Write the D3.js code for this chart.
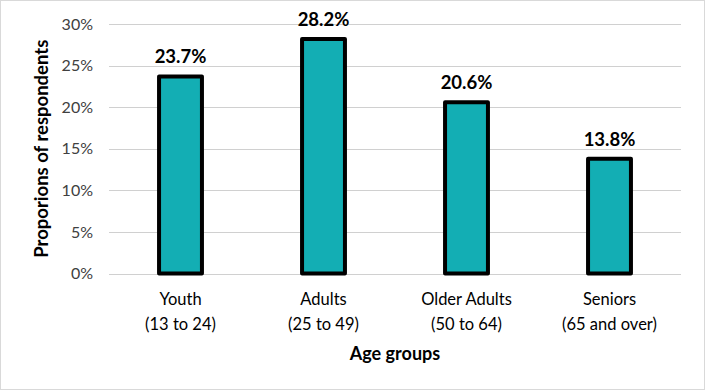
<!DOCTYPE html>
<html><head><meta charset="utf-8">
<script src="https://cdn.jsdelivr.net/npm/d3@7"></script>
<style>body{margin:0;background:#fff;}svg{display:block;}text{font-family:Lato,"Open Sans","Liberation Sans",sans-serif;}</style>
</head><body>
<script>
const categories = ["Youth", "Adults", "Older Adults", "Seniors"];
const subLabels = ["(13 to 24)", "(25 to 49)", "(50 to 64)", "(65 and over)"];
const values = [23.7, 28.2, 20.6, 13.8];
const yTicks = [0, 5, 10, 15, 20, 25, 30];

const W = 705, H = 390;
const m = {left: 109, right: 24, top: 24, bottom: 116.5};
const svg = d3.select("body").append("svg").attr("width", W).attr("height", H);
svg.append("rect").attr("x",0.5).attr("y",0.5).attr("width",W-1).attr("height",H-1)
  .attr("fill","#fff").attr("stroke","#d9d9d9");

const x = d3.scaleBand().domain(categories).range([m.left, W - m.right]).paddingInner(0.7).paddingOuter(0.35);
const y = d3.scaleLinear().domain([0, 30]).range([H - m.bottom, m.top]);

// gridlines
svg.append("g").selectAll("line").data(yTicks).join("line")
  .attr("x1", m.left).attr("x2", W - m.right)
  .attr("y1", d => Math.round(y(d)) + 0.5).attr("y2", d => Math.round(y(d)) + 0.5)
  .attr("stroke", "#d0d0d0").attr("stroke-width", 1);

// y axis
const yAxis = d3.axisLeft(y).tickValues(yTicks).tickFormat(d => d + "%").tickSize(0).tickPadding(16);
const ya = svg.append("g").attr("transform", `translate(${m.left},0)`).call(yAxis);
ya.select(".domain").remove();
ya.selectAll("text").attr("font-size", 16).attr("fill", "#404040")
  .style("font-family", "Lato,'Open Sans',sans-serif");

// bars
svg.selectAll("rect.bar").data(values).join("rect").attr("class","bar")
  .attr("x", (d,i) => x(categories[i]))
  .attr("width", x.bandwidth())
  .attr("y", d => y(d))
  .attr("height", d => y(0) - y(d))
  .attr("fill", "#13AEB4").attr("stroke", "#000").attr("stroke-width", 4)
  .attr("stroke-linejoin", "round");

// value labels
svg.selectAll("text.val").data(values).join("text").attr("class","val")
  .attr("x", (d,i) => x(categories[i]) + x.bandwidth()/2)
  .attr("y", d => y(d) - 13)
  .attr("text-anchor", "middle").attr("font-size", 18.5).attr("font-weight", "bold")
  .attr("fill", "#000").text(d => d.toFixed(1) + "%");

// x axis labels
const xAxis = d3.axisBottom(x).tickSize(0).tickPadding(0).tickFormat(() => "");
const xa = svg.append("g").attr("transform", `translate(0,${y(0)})`).call(xAxis);
xa.select(".domain").remove();
xa.selectAll(".tick").each(function(d, i) {
  const t = d3.select(this).append("text").attr("text-anchor", "middle")
    .attr("font-size", 16.5).attr("fill", "#000");
  t.append("tspan").attr("x", 0).attr("y", 31).text(d);
  t.append("tspan").attr("x", 0).attr("y", 56).text(subLabels[i]);
});

// axis titles
svg.append("text").attr("x", (m.left + W - m.right)/2).attr("y", 360)
  .attr("text-anchor", "middle").attr("font-size", 18).attr("font-weight", "bold")
  .text("Age groups");
svg.append("text").attr("transform", `translate(48,${(m.top + H - m.bottom)/2}) rotate(-90)`)
  .attr("text-anchor", "middle").attr("font-size", 18.5).attr("font-weight", "bold")
  .text("Proporions of respondents");
</script>
</body></html>
